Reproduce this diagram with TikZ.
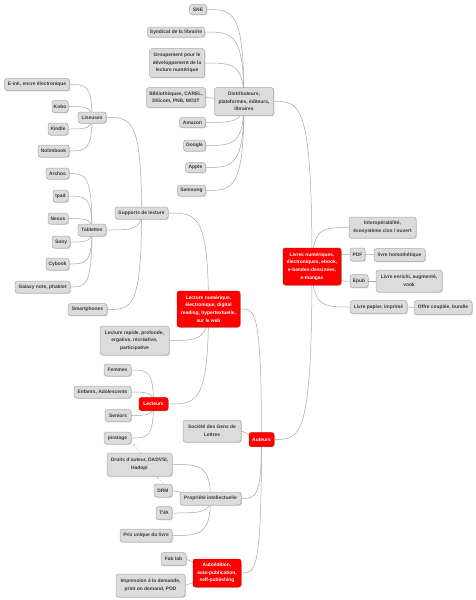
\documentclass[tikz,border=0pt]{standalone}
\usepackage{fontspec}
\setmainfont{Liberation Sans}
\usetikzlibrary{shadows,calc,arrows.meta}
\pgfdeclarelayer{bg}
\pgfsetlayers{bg,main}
\definecolor{boxfill}{HTML}{DCDCDC}
\definecolor{boxline}{HTML}{A9A9A9}
\definecolor{boxtext}{HTML}{3A3A3A}
\definecolor{hotred}{HTML}{FF0000}
\definecolor{linegrey}{HTML}{A6A6A6}
\tikzset{
  topic/.style={draw=boxline, fill=boxfill, line width=0.5pt, rounded corners=2.5pt,
    text=boxtext, font=\fontsize{4.9}{7.6}\selectfont\bfseries, align=center, inner sep=0pt,
    drop shadow={opacity=0.3, shadow xshift=0.8pt, shadow yshift=-0.9pt}},
  hub/.style={topic, draw=hotred!85!black, fill=hotred, text=white},
  conn/.style={draw=linegrey, line width=0.5pt},
  rel/.style={draw=linegrey!80, line width=0.4pt, dash pattern=on 1.5pt off 1.5pt,
    -{Stealth[length=2pt,width=2pt]}},
}
\newcommand\mmleft[2]{\draw[conn] (#1.center) .. controls (#1.center |- #2.east) and ($(#1.center |- #2.east)!0.3!(#2.east)$) .. (#2.east);}
\newcommand\mmright[2]{\draw[conn] (#1.center) .. controls (#1.center |- #2.west) and ($(#1.center |- #2.west)!0.3!(#2.west)$) .. (#2.west);}
\begin{document}
\begin{tikzpicture}[x=1pt,y=-1pt]
\useasboundingbox (0,0) rectangle (476,600);
% Distributeurs cluster
\node[topic,minimum width=17pt,minimum height=10pt] (sne) at (198,9.5) {SNE};
\node[topic,minimum width=57pt,minimum height=10pt] (syn) at (176,32) {Syndicat de la librairie};
\node[topic,minimum width=55pt,minimum height=29pt] (grp) at (177,63) {Groupement pour le\\développement de la\\lecture numérique};
\node[topic,minimum width=59pt,minimum height=20pt] (bib) at (176,97.5) {Bibliothèques, CAREL,\\Dilicom, PNB, MO3T};
\node[topic,minimum width=59pt,minimum height=28pt] (dist) at (244,101.5) {Distributeurs,\\plateformes, éditeurs,\\libraires};
\node[topic,minimum width=26pt,minimum height=10pt] (ama) at (192.5,122.5) {Amazon};
\node[topic,minimum width=22pt,minimum height=11pt] (goo) at (194.5,145.5) {Google};
\node[topic,minimum width=20pt,minimum height=10pt] (app) at (195.5,167.5) {Apple};
\node[topic,minimum width=28pt,minimum height=11pt] (sam) at (191.5,190.5) {Samsung};
% Supports de lecture cluster
\node[topic,minimum width=65pt,minimum height=12pt] (eink) at (37,84.5) {E-ink, encre électronique};
\node[topic,minimum width=16pt,minimum height=12pt] (kobo) at (60,106.5) {Kobo};
\node[topic,minimum width=28pt,minimum height=11pt] (lis) at (92,117.5) {Liseuses};
\node[topic,minimum width=20pt,minimum height=12pt] (kin) at (58,129) {Kindle};
\node[topic,minimum width=31pt,minimum height=12pt] (noli) at (53.5,151) {Nolimbook};
\node[topic,minimum width=23pt,minimum height=11pt] (arch) at (57.5,173.5) {Archos};
\node[topic,minimum width=15pt,minimum height=12pt] (ipad) at (60.5,196) {Ipad};
\node[topic,minimum width=20pt,minimum height=11pt] (nex) at (58,218.5) {Nexus};
\node[topic,minimum width=28pt,minimum height=12pt] (tab) at (92,230) {Tablettes};
\node[topic,minimum width=18pt,minimum height=12pt] (sony) at (61,242) {Sony};
\node[topic,minimum width=23pt,minimum height=12pt] (cyb) at (57.5,264) {Cybook};
\node[topic,minimum width=55pt,minimum height=12pt] (gal) at (42.5,287) {Galaxy note, phablet};
\node[topic,minimum width=53pt,minimum height=12pt] (sup) at (141.5,213) {Supports de lecture};
\node[topic,minimum width=39pt,minimum height=12pt] (smart) at (87.5,309.5) {Smartphones};
% Lecture
\node[hub,minimum width=63pt,minimum height=36pt] (lect) at (208.5,309) {Lecture numérique,\\électronique, digital\\reading, hypertextuelle,\\sur le web};
\node[topic,minimum width=69pt,minimum height=29pt] (rap) at (134.5,340.5) {Lecture rapide, profonde,\\ergative, récréative,\\participative};
\node[topic,minimum width=27pt,minimum height=12pt] (fem) at (117.5,370) {Femmes};
\node[topic,minimum width=57pt,minimum height=12pt] (enf) at (102.5,392) {Enfants, Adolescents};
\node[hub,minimum width=29pt,minimum height=13pt] (lecteurs) at (153.5,404) {Lecteurs};
\node[topic,minimum width=26pt,minimum height=12pt] (sen) at (118,415.5) {Seniors};
\node[topic,minimum width=27pt,minimum height=12pt] (pir) at (117.5,438) {piratage};
% Auteurs
\node[topic,minimum width=58pt,minimum height=22pt] (sgdl) at (212,431) {Société des Gens de\\Lettres};
\node[hub,minimum width=25pt,minimum height=14pt] (aut) at (261.5,439.5) {Auteurs};
\node[topic,minimum width=65pt,minimum height=23pt] (droits) at (139.5,464.5) {Droits d'auteur, DADVSI,\\Hadopi};
\node[topic,minimum width=18pt,minimum height=13pt] (drm) at (163,490.5) {DRM};
\node[topic,minimum width=61pt,minimum height=13pt] (prop) at (210.5,498.5) {Propriété intellectuelle};
\node[topic,minimum width=16pt,minimum height=13pt] (tva) at (164,513) {TVA};
\node[topic,minimum width=52pt,minimum height=13pt] (prix) at (146,535.5) {Prix unique du livre};
\node[topic,minimum width=25pt,minimum height=13pt] (fab) at (173.5,559) {Fab lab};
\node[hub,minimum width=48pt,minimum height=28pt] (auto) at (217,573) {Autoédition,\\auto-publication,\\self-publishing};
\node[topic,minimum width=69pt,minimum height=23pt] (impr) at (150.5,585.5) {Impression à la demande,\\print on demand, POD};
% Livres
\node[hub,minimum width=58pt,minimum height=37pt] (livres) at (312,266.5) {Livres numériques,\\électroniques, ebook,\\e-bandes-dessinées,\\e-mangas};
\node[topic,minimum width=67pt,minimum height=21pt] (interop) at (382.5,227.5) {Interopérabilité,\\écosystème clos / ouvert};
\node[topic,minimum width=15pt,minimum height=13pt] (pdf) at (357.5,254.5) {PDF};
\node[topic,minimum width=51pt,minimum height=13pt] (homo) at (399.5,255) {livre homothétique};
\node[topic,minimum width=18pt,minimum height=13pt] (epub) at (359,281) {Epub};
\node[topic,minimum width=66pt,minimum height=22pt] (enr) at (409,281) {Livre enrichi, augmenté,\\vook};
\node[topic,minimum width=57pt,minimum height=13pt] (pap) at (378.5,307) {Livre papier, imprimé};
\node[topic,minimum width=58pt,minimum height=14pt] (offre) at (443,307.5) {Offre couplée, bundle};
% relations
\draw[rel] ([xshift=1pt]droits.north) -- ([xshift=2pt]pir.south east);
\draw[rel] (drm.north) -- ([xshift=17pt]droits.south);
\begin{pgfonlayer}{bg}
\fill[white] (0,0) rectangle (476,600);
\mmleft{livres}{dist}
\mmleft{livres}{aut}
\mmright{livres}{interop}
\mmright{livres}{pdf}
\mmright{livres}{epub}
\mmright{livres}{pap}
\draw[conn] (pdf.center) -- (homo.center);
\draw[conn] (epub.center) -- (enr.center);
\draw[conn] (pap.center) -- (offre.center);
\mmleft{dist}{sne}
\mmleft{dist}{syn}
\mmleft{dist}{grp}
\draw[conn] (dist.center) -- (bib.east);
\mmleft{dist}{ama}
\mmleft{dist}{goo}
\mmleft{dist}{app}
\mmleft{dist}{sam}
\mmleft{aut}{lect}
\draw[conn] (aut.center) -- (sgdl.east);
\mmleft{aut}{prop}
\mmleft{aut}{auto}
\mmleft{lect}{sup}
\mmleft{lect}{rap}
\mmleft{lect}{lecteurs}
\mmleft{sup}{lis}
\mmleft{sup}{tab}
\mmleft{sup}{smart}
\mmleft{lis}{eink}
\mmleft{lis}{kobo}
\mmleft{lis}{kin}
\mmleft{lis}{noli}
\mmleft{tab}{arch}
\mmleft{tab}{ipad}
\mmleft{tab}{nex}
\mmleft{tab}{sony}
\mmleft{tab}{cyb}
\mmleft{tab}{gal}
\mmleft{lecteurs}{fem}
\mmleft{lecteurs}{enf}
\mmleft{lecteurs}{sen}
\mmleft{lecteurs}{pir}
\mmleft{prop}{droits}
\draw[conn] (prop.center) -- (drm.east);
\mmleft{prop}{tva}
\mmleft{prop}{prix}
\draw[conn] (auto.center) -- (fab.east);
\draw[conn] (auto.center) -- (impr.east);
\end{pgfonlayer}
\end{tikzpicture}
\end{document}
